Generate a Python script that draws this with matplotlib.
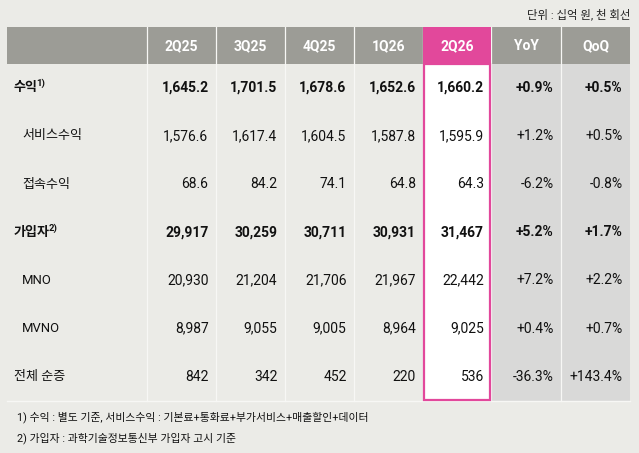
import matplotlib
matplotlib.use("Agg")
import matplotlib.pyplot as plt
from matplotlib.patches import Rectangle

plt.rcParams['font.family'] = ['Roboto', 'Noto Sans CJK KR', 'DejaVu Sans']

# ---- data ----
columns = ["2Q25", "3Q25", "4Q25", "1Q26", "2Q26", "YoY", "QoQ"]
row_labels = ["수익", "서비스수익", "접속수익", "가입자", "MNO", "MVNO", "전체 순증"]
row_sup = ["1)", "", "", "2)", "", "", ""]
row_bold = [True, False, False, True, False, False, False]
row_indent = [False, True, True, False, True, True, False]

revenue = ["1,645.2", "1,701.5", "1,678.6", "1,652.6", "1,660.2", "+0.9%", "+0.5%"]
service_rev = ["1,576.6", "1,617.4", "1,604.5", "1,587.8", "1,595.9", "+1.2%", "+0.5%"]
access_rev = ["68.6", "84.2", "74.1", "64.8", "64.3", "-6.2%", "-0.8%"]
subscribers = ["29,917", "30,259", "30,711", "30,931", "31,467", "+5.2%", "+1.7%"]
mno = ["20,930", "21,204", "21,706", "21,967", "22,442", "+7.2%", "+2.2%"]
mvno = ["8,987", "9,055", "9,005", "8,964", "9,025", "+0.4%", "+0.7%"]
net_add = ["842", "342", "452", "220", "536", "-36.3%", "+143.4%"]
rows = [revenue, service_rev, access_rev, subscribers, mno, mvno, net_add]

unit_text = "단위 : 십억 원, 천 회선"
footnotes = ["1) 수익 : 별도 기준, 서비스수익 : 기본료+통화료+부가서비스+매출할인+데이터",
             "2) 가입자 : 과학기술정보통신부 가입자 고시 기준"]
highlight_col = 4

# ---- style / layout ----
W, H = 639, 453
bg = "#ebebe7"
hdr_gray = "#9c9c96"
pink = "#e2489b"
chg_gray = "#d9d9d8"
sep = "#f7f7f5"

fig = plt.figure(figsize=(W / 100, H / 100), dpi=100)
fig.patch.set_facecolor(bg)
ax = fig.add_axes([0, 0, 1, 1])
ax.set_xlim(0, W)
ax.set_ylim(H, 0)
ax.axis("off")

col_edges = [7, 146.5, 215.5, 284.5, 353.5, 423, 491, 561, 630]
hdr_top, hdr_bot = 27, 63.5
row_h = (401 - hdr_bot) / len(rows)
tbl_bot = hdr_bot + row_h * len(rows)

ax.add_patch(Rectangle((col_edges[0], hdr_top), col_edges[-1] - col_edges[0], hdr_bot - hdr_top,
                       facecolor=hdr_gray, edgecolor="none"))
ax.add_patch(Rectangle((col_edges[6], hdr_bot), col_edges[8] - col_edges[6], tbl_bot - hdr_bot,
                       facecolor=chg_gray, edgecolor="none"))
for x in col_edges[1:-1]:
    ax.plot([x, x], [hdr_top, tbl_bot], color=sep, lw=0.9, zorder=2)
ax.plot([col_edges[0], col_edges[-1]], [tbl_bot, tbl_bot], color=sep, lw=1.0, zorder=2)

hx0, hx1 = col_edges[highlight_col + 1], col_edges[highlight_col + 2]
ax.add_patch(Rectangle((hx0, hdr_top), hx1 - hx0, hdr_bot - hdr_top,
                       facecolor=pink, edgecolor="none", zorder=3))
ax.add_patch(Rectangle((hx0 + 1, hdr_bot), hx1 - hx0 - 2, tbl_bot - hdr_bot - 1,
                       facecolor="white", edgecolor=pink, lw=1.6, zorder=3))

fs = 10
for j, c in enumerate(columns):
    xc = (col_edges[j + 1] + col_edges[j + 2]) / 2
    ax.text(xc, (hdr_top + hdr_bot) / 2 + 0.5, c, ha="center", va="center",
            color="white", fontsize=fs, fontweight="bold", zorder=4)

for i, vals in enumerate(rows):
    yc = hdr_bot + row_h * (i + 0.5)
    lx = 22 if row_indent[i] else 13.5
    t = ax.text(lx, yc, row_labels[i], ha="left", va="center", color="#111111",
                fontsize=9.4, fontweight="bold" if row_bold[i] else "normal", zorder=4)
    if row_sup[i]:
        ax.annotate(row_sup[i], xy=(1, 0.5), xycoords=t, xytext=(-0.8, 2.8),
                    textcoords="offset points", ha="left", va="center",
                    fontsize=6.8, fontweight="bold", color="#111111", zorder=4)
    for j, v in enumerate(vals):
        pad = 7 if j < 5 else 7.5
        ax.text(col_edges[j + 2] - pad, yc, v, ha="right", va="center", color="#111111",
                fontsize=fs, fontweight="bold" if row_bold[i] else "normal", zorder=4)

ax.text(630, 14, unit_text, ha="right", va="center", fontsize=8.2, color="#222222")

for k, f in enumerate(footnotes):
    ax.text(17, 417 + k * 21, f, ha="left", va="center", fontsize=7.8, color="#111111")

fig.savefig("out.png", dpi=100, facecolor=bg)
